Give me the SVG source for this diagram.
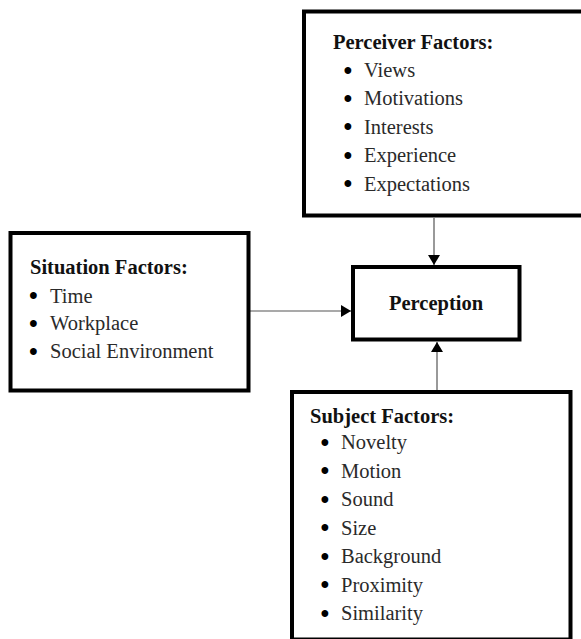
<svg xmlns="http://www.w3.org/2000/svg" width="581" height="639" viewBox="0 0 581 639">
<style>
.box{fill:#fff;stroke:#000;stroke-width:4}
.h{font-family:"Liberation Serif","Times New Roman",serif;font-size:20.5px;font-weight:bold;fill:#111}
.t{font-family:"Liberation Serif","Times New Roman",serif;font-size:20.5px;fill:#2a2a2a}
.b{font-family:"Liberation Serif","Times New Roman",serif;font-size:25px;font-weight:bold;fill:#000;text-anchor:middle}
.c{stroke:#555;stroke-width:1.2;fill:none}
</style>
<defs>
<marker id="arr" markerWidth="10" markerHeight="12" refX="10" refY="6" orient="auto" markerUnits="userSpaceOnUse">
<path d="M0,0 L10,6 L0,12 Z" fill="#000"/>
</marker>
</defs>
<rect width="581" height="639" fill="#fff"/>
<g id="connectors">
<line class="c" x1="434" y1="218" x2="434" y2="265" marker-end="url(#arr)"/>
<line class="c" x1="250" y1="311" x2="351" y2="311" marker-end="url(#arr)"/>
<line class="c" x1="437" y1="390" x2="437" y2="342" marker-end="url(#arr)"/>
</g>
<g id="perceiver">
<rect class="box" x="304" y="11.5" width="290" height="204"/>
<text class="h" x="333" y="49">Perceiver Factors:</text>
<text class="b" x="348" y="78.5">•</text><text class="t" x="364" y="77">Views</text>
<text class="b" x="348" y="106.9">•</text><text class="t" x="364" y="105.4">Motivations</text>
<text class="b" x="348" y="135.3">•</text><text class="t" x="364" y="133.8">Interests</text>
<text class="b" x="348" y="163.7">•</text><text class="t" x="364" y="162.2">Experience</text>
<text class="b" x="348" y="192.1">•</text><text class="t" x="364" y="190.6">Expectations</text>
</g>
<g id="situation">
<rect class="box" x="10.5" y="233" width="238" height="157.5"/>
<text class="h" x="30" y="273.5">Situation Factors:</text>
<text class="b" x="33.5" y="304">•</text><text class="t" x="50" y="302.5">Time</text>
<text class="b" x="33.5" y="331.7">•</text><text class="t" x="50" y="330.2">Workplace</text>
<text class="b" x="33.5" y="359.5">•</text><text class="t" x="50" y="358">Social Environment</text>
</g>
<g id="perception">
<rect class="box" x="353" y="267" width="166.5" height="72.5"/>
<text class="h" x="436" y="310" text-anchor="middle">Perception</text>
</g>
<g id="subject">
<rect class="box" x="292" y="392" width="278.5" height="247.5"/>
<text class="h" x="310" y="423">Subject Factors:</text>
<text class="b" x="325" y="450.5">•</text><text class="t" x="341" y="449">Novelty</text>
<text class="b" x="325" y="479">•</text><text class="t" x="341" y="477.5">Motion</text>
<text class="b" x="325" y="507.5">•</text><text class="t" x="341" y="506">Sound</text>
<text class="b" x="325" y="536">•</text><text class="t" x="341" y="534.5">Size</text>
<text class="b" x="325" y="564.5">•</text><text class="t" x="341" y="563">Background</text>
<text class="b" x="325" y="593">•</text><text class="t" x="341" y="591.5">Proximity</text>
<text class="b" x="325" y="621.5">•</text><text class="t" x="341" y="620">Similarity</text>
</g>
</svg>
